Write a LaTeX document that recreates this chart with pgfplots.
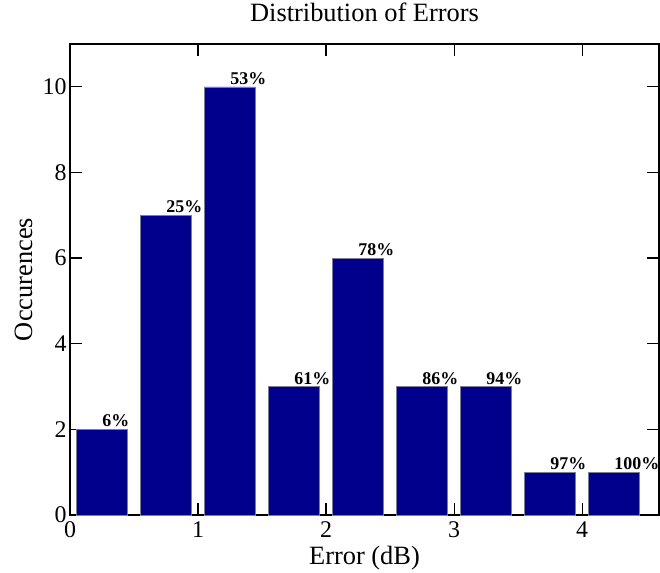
\documentclass[border=0pt]{standalone}
\usepackage{pgfplots}
\pgfplotsset{compat=1.18}
\usepackage{pgfplotstable}
\usepackage{fontspec}
\setmainfont{Liberation Serif}

\definecolor{barnavy}{RGB}{0,0,140}

% histogram bins (centre, count, cumulative share)
\pgfplotstableread{
x     n   lab
0.25  2   6\%
0.75  7   25\%
1.25  10  53\%
1.75  3   61\%
2.25  6   78\%
2.75  3   86\%
3.25  3   94\%
3.75  1   97\%
4.25  1   100\%
}\errtable

\begin{document}
\begin{tikzpicture}
\begin{axis}[
  at={(0,0)}, anchor=south west,
  scale only axis, width=589bp, height=471bp,
  xmin=0, xmax=4.6, ymin=0, ymax=11,
  xtick={0,1,2,3,4}, ytick={0,2,4,6,8,10},
  tick pos=both, tick align=inside,
  major tick length=12bp,
  every tick/.style={black, line width=1.2bp},
  axis line style={line width=1.6bp},
  /pgf/number format/assume math mode=true,
  ticklabel style={font=\fontsize{24}{24}\selectfont},
  xticklabel style={yshift=-3bp},
  title={Distribution of Errors},
  title style={at={(axis description cs:0.5,1.036)}, anchor=base,
    font=\fontsize{26.5}{26.5}\selectfont},
  xlabel={Error (dB)},
  xlabel style={at={(axis description cs:0.5,-0.106)}, anchor=base,
    font=\fontsize{26.5}{26.5}\selectfont},
  ylabel={Occurences},
  ylabel style={at={(axis description cs:-0.0645,0.5)}, anchor=base,
    font=\fontsize{26.5}{26.5}\selectfont},
]
\addplot[ybar, bar width=0.4, fill=barnavy, draw=gray, line width=0.6bp,
  nodes near coords, point meta=explicit symbolic,
  nodes near coords style={anchor=south west, inner sep=1bp, xshift=-1bp,
    yshift=1bp, font=\bfseries\fontsize{18}{18}\selectfont}]
  table[x=x, y=n, meta=lab] {\errtable};
\end{axis}
\pgfresetboundingbox
\path (-70bp,-58bp) rectangle (590bp,515bp);
\end{tikzpicture}
\end{document}
